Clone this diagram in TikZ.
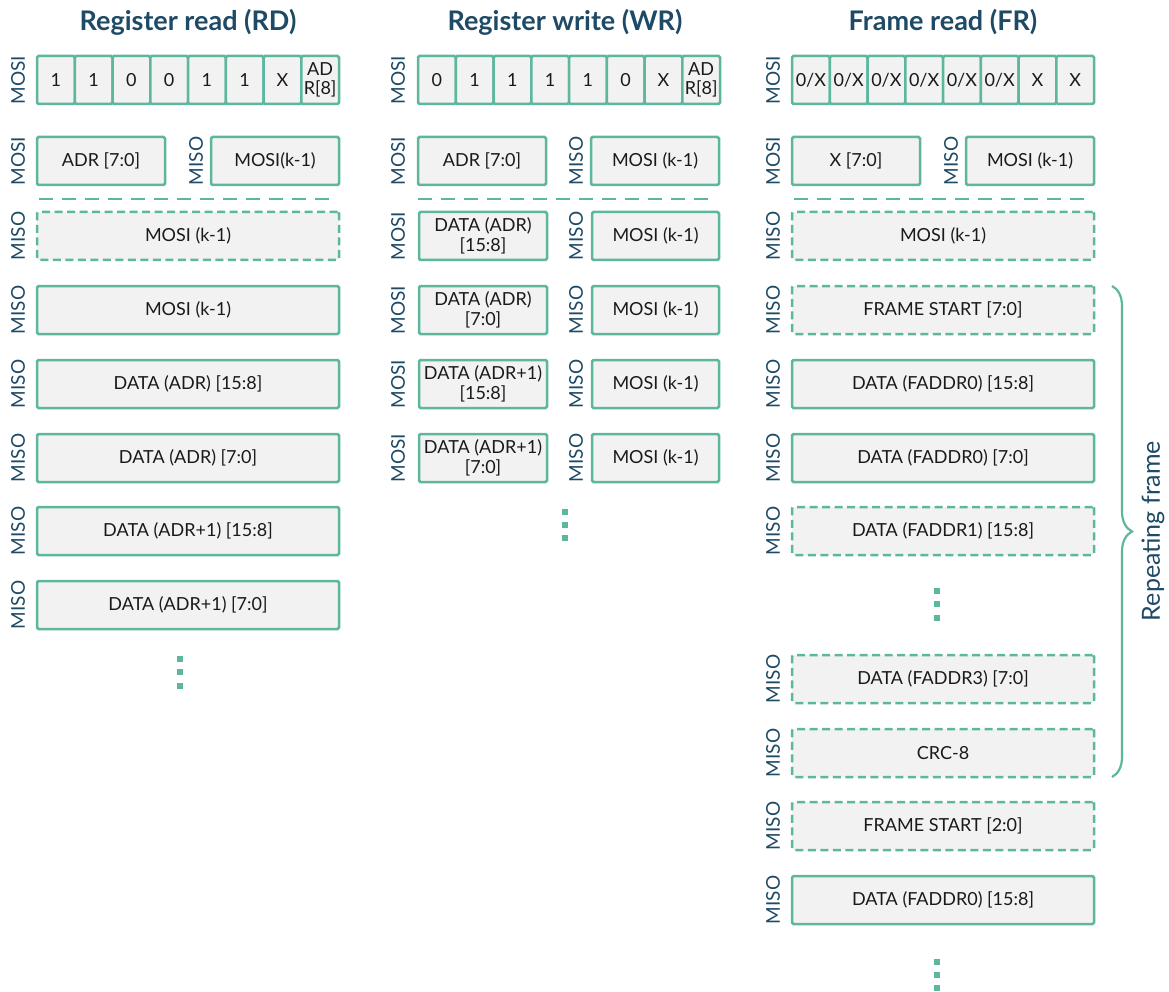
\documentclass[tikz,border=0pt]{standalone}
\usepackage{fontspec}
\setmainfont{Lato}
\usetikzlibrary{decorations.pathreplacing}
\definecolor{tgreen}{HTML}{5DB79E}
\definecolor{cellfill}{HTML}{F2F2F2}
\definecolor{navy}{HTML}{1E4A66}
\definecolor{txt}{HTML}{1A1A1A}
\newcommand\bx[7]{\node[#7, minimum width={((#4)-(#2))*1pt}, minimum height={((#5)-(#3))*1pt}] (#1) at ({((#2)+(#4))/2},{((#3)+(#5))/2}) {#6};}
\tikzset{
  cell/.style={draw=tgreen, fill=cellfill, line width=2.5pt, rounded corners=1.5pt, inner sep=0pt, text=txt, align=center, font=\fontsize{18}{20}\selectfont},
  dcell/.style={cell, dash pattern=on 8pt off 4.5pt},
  bcell/.style={cell, font=\fontsize{18}{19}\selectfont},
  lbl/.style={rotate=90, text=navy, inner sep=0pt, font=\fontsize{19}{22}\selectfont},
  ttl/.style={text=navy, inner sep=0pt, font=\fontsize{27}{30}\selectfont\bfseries},
  sepline/.style={draw=tgreen, line width=2.5pt, dash pattern=on 14pt off 9pt},
  dot/.style={fill=tgreen, minimum size=5.5pt, inner sep=0pt},
  bracestyle/.style={draw=tgreen, line width=2.2pt, decorate, decoration={brace, amplitude=20pt, aspect=0.5}},
}
\begin{document}
\begin{tikzpicture}[x=1pt,y=-1pt]
\useasboundingbox (0,0) rectangle (1169,992);
% Titles
\node[ttl] (t1) at (188,22) {Register read (RD)};
\node[ttl] (t2) at (565,22) {Register write (WR)};
\node[ttl] (t3) at (943,22) {Frame read (FR)};

% ===== Column 1: RD =====
\node[lbl] (c1l1) at (18,80) {MOSI};
\foreach \i/\t in {0/1,1/1,2/0,3/0,4/1,5/1,6/X}{
  \bx{c1b\i}{37+\i*37.75}{56}{37+\i*37.75+37.75}{104}{\t}{bcell}
}
\bx{c1b7}{301.25}{56}{339}{104}{AD\\R[8]}{bcell}
\node[lbl] (c1l2) at (18,161) {MOSI};
\bx{c1r2a}{37}{137}{165}{185}{ADR [7:0]}{cell}
\node[lbl] (c1l2b) at (196,161) {MISO};
\bx{c1r2b}{211}{137}{339}{185}{MOSI(k-1)}{cell}
\coordinate (c1s1) at (39,199);
\coordinate (c1s2) at (332,199);
\draw[sepline] (c1s1) -- (c1s2);
\foreach \n/\y/\t/\s in {3/212/{MOSI (k-1)}/dcell,4/286/{MOSI (k-1)}/cell,5/360/{DATA (ADR) [15:8]}/cell,6/434/{DATA (ADR) [7:0]}/cell,7/507/{DATA (ADR+1) [15:8]}/cell,8/581/{DATA (ADR+1) [7:0]}/cell}{
  \node[lbl] (c1l\n) at (18,\y+24) {MISO};
  \bx{c1r\n}{37}{\y}{339}{\y+48}{\t}{\s}
}
\node[dot] (c1d1) at (180,659) {};
\node[dot] (c1d2) at (180,672) {};
\node[dot] (c1d3) at (180,686) {};

% ===== Column 2: WR =====
\node[lbl] (c2l1) at (398,80) {MOSI};
\foreach \i/\t in {0/0,1/1,2/1,3/1,4/1,5/0,6/X}{
  \bx{c2b\i}{418+\i*37.75}{56}{418+\i*37.75+37.75}{104}{\t}{bcell}
}
\bx{c2b7}{682.25}{56}{720}{104}{AD\\R[8]}{bcell}
\node[lbl] (c2l2) at (398,161) {MOSI};
\bx{c2r2a}{418}{137}{546}{185}{ADR [7:0]}{cell}
\node[lbl] (c2l2b) at (576,161) {MISO};
\bx{c2r2b}{591}{137}{719}{185}{MOSI (k-1)}{cell}
\coordinate (c2s1) at (418,199);
\coordinate (c2s2) at (708,199);
\draw[sepline] (c2s1) -- (c2s2);
\foreach \n/\y/\t in {3/212/{DATA (ADR)\\{}[15:8]},4/286/{DATA (ADR)\\{}[7:0]},5/360/{DATA (ADR+1)\\{}[15:8]},6/434/{DATA (ADR+1)\\{}[7:0]}}{
  \node[lbl] (c2l\n) at (398,\y+24) {MOSI};
  \bx{c2r\n a}{419}{\y}{547}{\y+48}{\t}{cell}
  \node[lbl] (c2l\n b) at (576,\y+24) {MISO};
  \bx{c2r\n b}{592}{\y}{719}{\y+48}{MOSI (k-1)}{cell}
}
\node[dot] (c2d1) at (565,512) {};
\node[dot] (c2d2) at (565,525) {};
\node[dot] (c2d3) at (565,538) {};

% ===== Column 3: FR =====
\node[lbl] (c3l1) at (773,80) {MOSI};
\foreach \i/\t in {0/0\slash X,1/0\slash X,2/0\slash X,3/0\slash X,4/0\slash X,5/0\slash X,6/X,7/X}{
  \bx{c3b\i}{792+\i*37.75}{56}{792+\i*37.75+37.75}{104}{\t}{bcell}
}
\node[lbl] (c3l2) at (773,161) {MOSI};
\bx{c3r2a}{792}{137}{920}{185}{X [7:0]}{cell}
\node[lbl] (c3l2b) at (951,161) {MISO};
\bx{c3r2b}{966}{137}{1094}{185}{MOSI (k-1)}{cell}
\coordinate (c3s1) at (794,199);
\coordinate (c3s2) at (1087,199);
\draw[sepline] (c3s1) -- (c3s2);
\foreach \n/\y/\t/\s in {3/212/{MOSI (k-1)}/dcell,4/286/{FRAME START [7:0]}/dcell,5/360/{DATA (FADDR0) [15:8]}/cell,6/434/{DATA (FADDR0) [7:0]}/cell,7/507/{DATA (FADDR1) [15:8]}/dcell,8/655/{DATA (FADDR3) [7:0]}/dcell,9/729/{CRC-8}/dcell,10/802/{FRAME START [2:0]}/dcell,11/876/{DATA (FADDR0) [15:8]}/cell}{
  \node[lbl] (c3l\n) at (773,\y+24) {MISO};
  \bx{c3r\n}{792}{\y}{1094}{\y+48}{\t}{\s}
}
\node[dot] (c3d1) at (937,591) {};
\node[dot] (c3d2) at (937,604) {};
\node[dot] (c3d3) at (937,618) {};
\node[dot] (c3d4) at (937,962) {};
\node[dot] (c3d5) at (937,975) {};
\node[dot] (c3d6) at (937,988) {};

% Brace
\coordinate (brt) at (1112,286);
\coordinate (brb) at (1112,777);
\draw[bracestyle] (brt) -- (brb);
\node[rotate=90, text=navy, inner sep=0pt, font=\fontsize{25}{28}\selectfont] (rep) at (1153,531) {Repeating frame};
\end{tikzpicture}
\end{document}
